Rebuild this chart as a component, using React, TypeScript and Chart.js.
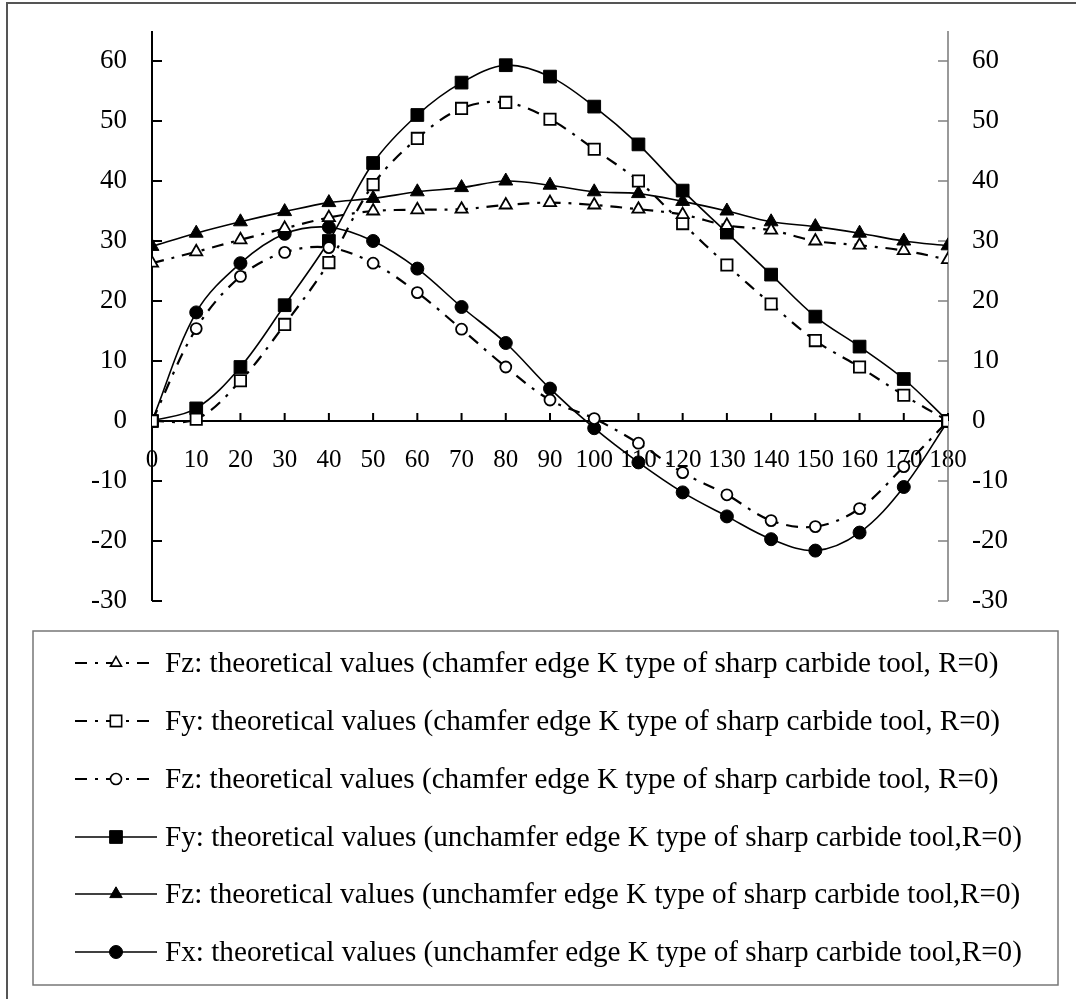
import React, { useEffect, useRef } from "react";
import { Chart, registerables } from "chart.js";

Chart.register(...registerables);

// ---- data ----
const angles = [0, 10, 20, 30, 40, 50, 60, 70, 80, 90, 100, 110, 120, 130, 140, 150, 160, 170, 180];
const fzChamfer = [26.3, 28.2, 30.2, 32.1, 33.9, 35.0, 35.2, 35.3, 36.0, 36.4, 36.0, 35.3, 34.4, 32.6, 31.8, 30.0, 29.3, 28.4, 26.9];
const fyChamfer = [0, 0.3, 6.7, 16.1, 26.4, 39.4, 47.1, 52.1, 53.1, 50.3, 45.3, 40.0, 32.9, 26.0, 19.5, 13.4, 9.0, 4.3, 0];
const fxChamfer = [0, 15.4, 24.1, 28.1, 28.9, 26.3, 21.4, 15.3, 9.0, 3.5, 0.4, -3.7, -8.6, -12.3, -16.6, -17.6, -14.6, -7.6, 0];
const fyUnchamfer = [0, 2.1, 9.0, 19.3, 30.0, 43.0, 51.0, 56.4, 59.3, 57.4, 52.4, 46.1, 38.4, 31.4, 24.4, 17.4, 12.4, 7.0, 0];
const fzUnchamfer = [29.1, 31.3, 33.2, 34.9, 36.4, 37.1, 38.2, 38.9, 40.0, 39.3, 38.2, 37.9, 36.6, 35.0, 33.2, 32.4, 31.3, 30.0, 29.2];
const fxUnchamfer = [0, 18.1, 26.3, 31.2, 32.3, 30.0, 25.4, 19.0, 13.0, 5.4, -1.2, -6.9, -11.9, -15.9, -19.7, -21.6, -18.6, -11.0, 0];

const seriesLabels = [
  "Fz: theoretical values (chamfer edge K type of sharp carbide tool, R=0)",
  "Fy: theoretical values (chamfer edge K type of sharp carbide tool, R=0)",
  "Fz: theoretical values (chamfer edge K type of sharp carbide tool, R=0)",
  "Fy: theoretical values (unchamfer edge K type of sharp carbide tool,R=0)",
  "Fz: theoretical values (unchamfer edge K type of sharp carbide tool,R=0)",
  "Fx: theoretical values (unchamfer edge K type of sharp carbide tool,R=0)",
];

const xMin = 0;
const xMax = 180;
const xStep = 10;
const yMin = -30;
const yMax = 65;
const yStep = 10;

const FONT = "'Liberation Serif', 'Times New Roman', serif";
const DASH = [12, 8, 3, 8];

type Marker = { style: string; filled: boolean; radius: number };
const markers: Marker[] = [
  { style: "triangle", filled: false, radius: 7 },
  { style: "rect", filled: false, radius: 8 },
  { style: "circle", filled: false, radius: 5.5 },
  { style: "rect", filled: true, radius: 9 },
  { style: "triangle", filled: true, radius: 8 },
  { style: "circle", filled: true, radius: 6.5 },
];
const seriesValues = [fzChamfer, fyChamfer, fxChamfer, fyUnchamfer, fzUnchamfer, fxUnchamfer];
const dashed = [true, true, true, false, false, false];

function drawMarker(ctx: CanvasRenderingContext2D, m: Marker, x: number, y: number, r: number) {
  ctx.save();
  ctx.beginPath();
  if (m.style === "circle") {
    ctx.arc(x, y, r, 0, Math.PI * 2);
  } else if (m.style === "rect") {
    const s = r * Math.SQRT1_2;
    ctx.rect(x - s, y - s, 2 * s, 2 * s);
  } else {
    ctx.moveTo(x, y - r);
    ctx.lineTo(x + Math.sin((2 * Math.PI) / 3) * r, y - Math.cos((2 * Math.PI) / 3) * r);
    ctx.lineTo(x + Math.sin((4 * Math.PI) / 3) * r, y - Math.cos((4 * Math.PI) / 3) * r);
    ctx.closePath();
  }
  ctx.setLineDash([]);
  ctx.fillStyle = m.filled ? "#000" : "#fff";
  ctx.fill();
  ctx.lineWidth = m.filled ? 1 : 1.6;
  ctx.strokeStyle = "#000";
  ctx.stroke();
  ctx.restore();
}

const framePlugin = {
  id: "frame",
  beforeDatasetsDraw(chart: any) {
    const ctx: CanvasRenderingContext2D = chart.ctx;
    const { left, right, top, bottom } = chart.chartArea;
    const ys = chart.scales.y;
    const xs = chart.scales.x;
    const y0 = ys.getPixelForValue(0);
    ctx.save();
    // left axis
    ctx.strokeStyle = "#000";
    ctx.lineWidth = 2;
    ctx.beginPath();
    ctx.moveTo(left, top);
    ctx.lineTo(left, bottom);
    ys.ticks.forEach((t: any) => {
      const p = ys.getPixelForValue(t.value);
      ctx.moveTo(left, p);
      ctx.lineTo(left + 10, p);
    });
    ctx.stroke();
    // right axis
    const y2 = chart.scales.y2;
    ctx.strokeStyle = "#808080";
    ctx.lineWidth = 1.6;
    ctx.beginPath();
    ctx.moveTo(right, top);
    ctx.lineTo(right, bottom);
    y2.ticks.forEach((t: any) => {
      const p = y2.getPixelForValue(t.value);
      ctx.moveTo(right, p);
      ctx.lineTo(right - 10, p);
    });
    ctx.stroke();
    // x axis at y=0
    ctx.strokeStyle = "#000";
    ctx.lineWidth = 2;
    ctx.beginPath();
    ctx.moveTo(left, y0);
    ctx.lineTo(right, y0);
    xs.ticks.forEach((t: any) => {
      const p = xs.getPixelForValue(t.value);
      ctx.moveTo(p, y0);
      ctx.lineTo(p, y0 - 8);
    });
    ctx.stroke();
    ctx.restore();
  },
  afterDraw(chart: any) {
    const ctx: CanvasRenderingContext2D = chart.ctx;
    ctx.save();
    // outer frame (left and top edges visible)
    ctx.strokeStyle = "#555";
    ctx.lineWidth = 2;
    ctx.beginPath();
    ctx.moveTo(7, chart.height + 2);
    ctx.lineTo(7, 3);
    ctx.lineTo(chart.width + 2, 3);
    ctx.stroke();
    // legend box
    ctx.strokeStyle = "#777";
    ctx.lineWidth = 1.5;
    ctx.strokeRect(33, 631, 1025, 354);
    // legend entries
    const rowY = [663, 721, 779, 837, 894, 952];
    ctx.font = `29.2px ${FONT}`;
    ctx.textBaseline = "middle";
    ctx.textAlign = "left";
    chart.data.datasets.forEach((ds: any, i: number) => {
      const y = rowY[i];
      ctx.save();
      ctx.strokeStyle = "#000";
      ctx.lineWidth = ds.borderWidth;
      ctx.setLineDash(ds.borderDash || []);
      ctx.beginPath();
      ctx.moveTo(75, y);
      ctx.lineTo(157, y);
      ctx.stroke();
      ctx.restore();
      drawMarker(ctx, markers[i], 116, y, markers[i].radius * (markers[i].style === "triangle" ? 0.9 : 1));
      ctx.fillStyle = "#000";
      ctx.fillText(ds.label, 165, y + 1);
    });
    ctx.restore();
  },
};

export default function App() {
  const canvasRef = useRef<HTMLCanvasElement | null>(null);

  useEffect(() => {
    const canvas = canvasRef.current;
    if (!canvas) return;
    const datasets = seriesValues.map((vals, i) => ({
      label: seriesLabels[i],
      data: angles.map((a, j) => ({ x: a, y: vals[j] })),
      borderColor: "#000",
      borderWidth: dashed[i] ? 2.2 : 1.6,
      borderDash: dashed[i] ? DASH : [],
      tension: 0.35,
      pointStyle: markers[i].style,
      pointRadius: markers[i].radius,
      pointBackgroundColor: markers[i].filled ? "#000" : "#fff",
      pointBorderColor: "#000",
      pointBorderWidth: markers[i].filled ? 1 : 1.8,
      fill: false,
      yAxisID: "y",
    }));

    const xFont = { family: FONT, size: 25 };
    const yFont = { family: FONT, size: 27 };

    const chart = new Chart(canvas, {
      type: "line",
      data: { datasets },
      plugins: [framePlugin],
      options: {
        responsive: false,
        animation: false,
        layout: { padding: { top: 31, left: 0, right: 0, bottom: 398 } },
        plugins: { legend: { display: false }, tooltip: { enabled: false } },
        scales: {
          x: {
            type: "linear",
            position: { y: 0 },
            min: xMin,
            max: xMax,
            ticks: {
              stepSize: xStep,
              autoSkip: false,
              maxRotation: 0,
              color: "#000",
              font: xFont,
              padding: 24,
            },
            grid: { display: false, drawTicks: false },
            border: { display: false },
            afterFit: (s: any) => {
              s.paddingLeft = 0;
              s.paddingRight = 0;
              s.paddingTop = 0;
              s.paddingBottom = 0;
              s.height = 0;
            },
          },
          y: {
            type: "linear",
            position: "left",
            min: yMin,
            max: yMax,
            ticks: { stepSize: yStep, includeBounds: false, color: "#000", font: yFont, padding: 25 },
            grid: { display: false, drawTicks: false },
            border: { display: false },
            afterFit: (s: any) => {
              s.width = 152;
              s.paddingTop = 0;
              s.paddingBottom = 0;
            },
          },
          y2: {
            type: "linear",
            position: "right",
            min: yMin,
            max: yMax,
            ticks: { stepSize: yStep, includeBounds: false, color: "#000", font: yFont, padding: 24 },
            grid: { display: false, drawTicks: false },
            border: { display: false },
            afterFit: (s: any) => {
              s.width = 128;
              s.paddingTop = 0;
              s.paddingBottom = 0;
            },
          },
        },
      } as any,
    });
    return () => chart.destroy();
  }, []);

  return (
    <div style={{ position: "absolute", left: 0, top: 0, width: 1076, height: 999, background: "#fff" }}>
      <canvas ref={canvasRef} width={1076} height={999} style={{ display: "block" }} />
    </div>
  );
}
